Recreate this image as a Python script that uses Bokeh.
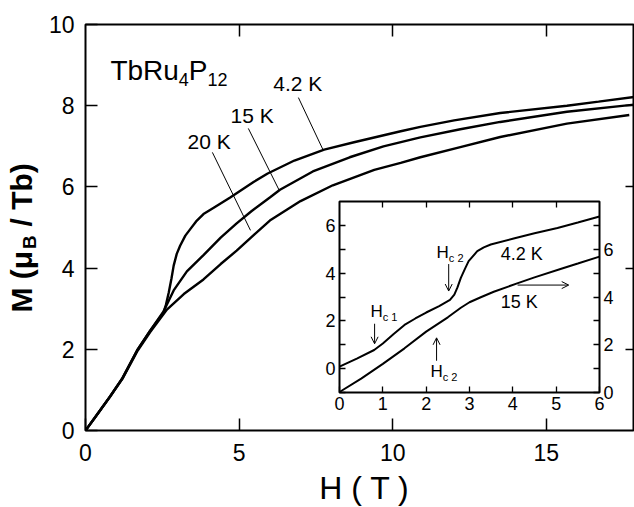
import math
from bokeh.plotting import figure
from bokeh.models import (Range1d, LinearAxis, FixedTicker, Arrow, OpenHead, ColumnDataSource)
from bokeh.core.properties import value
from bokeh.embed import file_html
from bokeh.resources import INLINE

FONT = "Liberation Sans"
MID = 0.347   # distance (in em) from the text's middle to its alphabetic baseline

# ---------------- data ----------------
main_H_42 = [0, 0.4, 0.8, 1.2, 1.7, 2.1, 2.54, 2.62, 2.71, 2.8, 2.87, 2.97, 3.08, 3.25, 3.41, 3.6,
             3.84, 4.2, 4.71, 5.47, 5.93, 6.8, 7.77, 8.74, 10.26, 10.9, 12.0, 13.5, 15.67, 16.7, 17.9]
main_M_42 = [0, 0.42, 0.84, 1.28, 2.0, 2.45, 2.91, 3.1, 3.4, 3.75, 4.06, 4.35, 4.55, 4.8, 4.96, 5.15,
             5.33, 5.5, 5.74, 6.12, 6.33, 6.65, 6.92, 7.1, 7.37, 7.48, 7.64, 7.82, 8.0, 8.1, 8.22]
main_H_15 = [0, 0.4, 0.8, 1.2, 1.7, 2.1, 2.54, 2.87, 3.3, 3.84, 4.4, 4.92, 5.4, 6.0, 6.33, 7.4,
             8.6, 9.7, 10.9, 12.2, 13.5, 15.67, 17.9]
main_M_15 = [0, 0.42, 0.84, 1.29, 2.0, 2.45, 2.93, 3.45, 3.92, 4.32, 4.75, 5.1, 5.4, 5.74, 5.93, 6.38,
             6.73, 7.0, 7.22, 7.42, 7.6, 7.85, 8.03]
main_H_20 = [0, 0.4, 0.8, 1.2, 1.7, 2.1, 2.65, 3.2, 3.84, 4.4, 4.92, 5.5, 6.0, 7.0, 8.05, 9.4,
             10.26, 10.9, 12.2, 13.5, 15.67, 17.7]
main_M_20 = [0, 0.41, 0.83, 1.27, 1.97, 2.42, 2.98, 3.36, 3.72, 4.1, 4.43, 4.83, 5.17, 5.65, 6.04, 6.42,
             6.59, 6.73, 6.98, 7.23, 7.56, 7.77]

ins_H_42 = [0, 0.4, 0.8, 1.0, 1.25, 1.5, 1.75, 2.0, 2.3, 2.55, 2.65, 2.72, 2.8, 2.9, 2.98, 3.18,
            3.33, 3.49, 4.02, 4.5, 5.03, 5.5, 6.0]
ins_M_42 = [0.08, 0.42, 0.78, 1.05, 1.45, 1.83, 2.1, 2.35, 2.62, 2.88, 3.1, 3.39, 3.8, 4.2, 4.5, 4.92,
            5.08, 5.2, 5.45, 5.67, 5.89, 6.12, 6.37]
ins_H_15 = [0, 0.5, 1.0, 1.5, 2.0, 2.5, 2.8, 3.0, 3.26, 3.56, 4.1, 4.5, 5.1, 5.5, 6.0]
ins_M_15 = [0.02, 0.58, 1.2, 1.85, 2.55, 3.15, 3.55, 3.78, 3.99, 4.22, 4.57, 4.82, 5.17, 5.4, 5.69]

main_x_ticks = [0, 5, 10, 15]
main_y_ticks = [0, 2, 4, 6, 8, 10]
ins_x_ticks = [0, 1, 2, 3, 4, 5, 6]
ins_yl_ticks = [0, 2, 4, 6]
ins_yl_minor = [-1, 1, 3, 5]
ins_yr_ticks = [0, 2, 4, 6]
ins_yr_minor = [1, 3, 5, 7]

# temperature labels on the main plot (label baseline anchor, leader line start/end)
main_labels = ["4.2 K", "15 K", "20 K"]
main_label_H = [6.11, 4.72, 3.32]
main_label_M = [8.37, 7.59, 6.95]
leader_H0 = [6.93, 5.30, 4.13]
leader_M0 = [8.20, 7.44, 6.85]
leader_H1 = [7.74, 6.31, 5.37]
leader_M1 = [6.90, 5.91, 4.93]

# Arial / Liberation Sans advance widths (per 1000 em)
W = {' ': 278, '.': 278, 'H': 722, 'K': 667, 'T': 611, 'b': 556, 'R': 722, 'u': 556,
     'P': 667, 'c': 500, 'M': 833, '(': 333, ')': 333, '/': 278, 'μ': 576, 'B': 667}
WB = {' ': 278, 'M': 833, '(': 333, ')': 333, '/': 278, 'μ': 611, 'B': 722, 'T': 611, 'b': 611}
for d in "0123456789":
    W[d] = 556


def tw(s, size, table=W):
    return sum(table.get(ch, 556) for ch in s) * size / 1000.0


def rich(fig, x, y, pieces, px_per_unit, **kw):
    """Text made of pieces (text, px size, down-shift px); (x, y) is the baseline start."""
    offs, xo = [], 0.0
    for t, s, dy in pieces:
        offs.append(xo)
        xo += tw(t, s)
    src = ColumnDataSource(dict(
        x=[x] * len(pieces),
        y=[y + MID * p[1] / px_per_unit for p in pieces],
        t=[p[0] for p in pieces], fs=["%dpx" % p[1] for p in pieces],
        xo=offs, yo=[p[2] for p in pieces]))
    fig.text(x="x", y="y", text="t", source=src, text_font_size="fs", x_offset="xo",
             y_offset="yo", text_font=value(FONT), text_color="black",
             text_align="left", text_baseline="middle", **kw)


def tick_only_axis(ax, ticks, tick_len, width):
    # ticks drawn as "minor" ticks so that no (empty) labels are produced
    ax.ticker = FixedTicker(ticks=[], minor_ticks=ticks)
    ax.axis_line_color = None
    ax.major_tick_line_color = None
    ax.minor_tick_in = tick_len
    ax.minor_tick_out = 0
    ax.minor_tick_line_width = width
    ax.minor_tick_line_color = "black"


# ---------------- main figure ----------------
MAIN_PX_Y = 40.6
p = figure(width=634, height=507, x_range=Range1d(0, 17.87), y_range=Range1d(0, 10),
           output_backend="svg", toolbar_location=None,
           min_border_left=85, min_border_right=0, min_border_top=24, min_border_bottom=77)
p.grid.visible = False
p.outline_line_color = "black"
p.outline_line_width = 2
p.background_fill_color = "white"
p.border_fill_color = "white"

for ax, ticks, stand in [(p.xaxis[0], main_x_ticks, 13), (p.yaxis[0], main_y_ticks, 11)]:
    ax.ticker = FixedTicker(ticks=ticks)
    ax.axis_line_color = None
    ax.major_tick_in = 12
    ax.major_tick_out = 0
    ax.major_tick_line_width = 1.5
    ax.minor_tick_line_color = None
    ax.major_label_text_font = FONT
    ax.major_label_text_font_size = "23px"
    ax.major_label_text_color = "black"
    ax.major_label_standoff = stand

top_ax = LinearAxis()
tick_only_axis(top_ax, main_x_ticks[1:], 12, 1.5)
p.add_layout(top_ax, "above")
right_ax = LinearAxis()
tick_only_axis(right_ax, main_y_ticks[1:-1], 9, 1.5)
p.add_layout(right_ax, "right")

for Hs, Ms in [(main_H_20, main_M_20), (main_H_15, main_M_15), (main_H_42, main_M_42)]:
    p.line(Hs, Ms, line_color="black", line_width=2.4)

p.segment(x0=leader_H0, y0=leader_M0, x1=leader_H1, y1=leader_M1, line_color="black", line_width=1)
p.text(x=main_label_H, y=[m + MID * 21 / MAIN_PX_Y for m in main_label_M], text=main_labels,
       text_font=value(FONT), text_font_size="21px", text_color="black", text_align="left",
       text_baseline="middle")

rich(p, 0.81, 8.62, [("TbRu", 28, 0), ("4", 18, 5), ("P", 28, 0), ("12", 18, 5)], MAIN_PX_Y)

# ---------------- inset ----------------
INS_PX_Y = 23.875
inset = figure(width=315, height=226, x_range=Range1d(0, 6), y_range=Range1d(-1, 7),
               output_backend="svg", toolbar_location=None,
               min_border_left=30, min_border_right=25, min_border_top=5, min_border_bottom=30)
inset.extra_y_ranges = {"r": Range1d(0, 8)}
inset.grid.visible = False
inset.outline_line_color = "black"
inset.outline_line_width = 2
inset.background_fill_color = "white"
inset.border_fill_alpha = 0


def style_inset_axis(ax):
    ax.axis_line_color = None
    ax.major_tick_in = 6
    ax.major_tick_out = 0
    ax.minor_tick_in = 6
    ax.minor_tick_out = 0
    ax.major_tick_line_width = 1.3
    ax.minor_tick_line_width = 1.3
    ax.major_label_text_font = FONT
    ax.major_label_text_font_size = "18px"
    ax.major_label_text_color = "black"
    ax.major_label_standoff = 4


inset.xaxis.ticker = FixedTicker(ticks=ins_x_ticks)
style_inset_axis(inset.xaxis[0])
inset.yaxis.ticker = FixedTicker(ticks=ins_yl_ticks, minor_ticks=ins_yl_minor)
style_inset_axis(inset.yaxis[0])
itop = LinearAxis()
tick_only_axis(itop, ins_x_ticks[1:-1], 6, 1.3)
inset.add_layout(itop, "above")
iright = LinearAxis(y_range_name="r", ticker=FixedTicker(ticks=ins_yr_ticks, minor_ticks=ins_yr_minor))
style_inset_axis(iright)
inset.add_layout(iright, "right")

inset.line(ins_H_42, ins_M_42, line_color="black", line_width=2)
inset.line(ins_H_15, ins_M_15, line_color="black", line_width=2, y_range_name="r")

rich(inset, 0.715, 2.14, [("H", 17, 0), ("c 1", 11, 3)], INS_PX_Y)
rich(inset, 2.24, 4.61, [("H", 17, 0), ("c 2", 11, 3)], INS_PX_Y)
rich(inset, 2.10, -0.37, [("H", 17, 0), ("c 2", 11, 3)], INS_PX_Y)
inset.text(x=[3.72, 3.72], y=[m + MID * 18 / INS_PX_Y for m in [4.53, 2.52]], text=["4.2 K", "15 K"],
           text_font=value(FONT), text_font_size="18px", text_color="black", text_align="left",
           text_baseline="middle")

arrows = [(0.81, 1.88, 0.81, 1.04), (2.52, 4.38, 2.52, 3.25), (4.11, 3.5, 5.29, 3.5), (2.24, 0.33, 2.24, 1.29)]
for xs, ys, xe, ye in arrows:
    inset.add_layout(Arrow(end=OpenHead(size=7, line_width=1, line_color="black"),
                           x_start=xs, y_start=ys, x_end=xe, y_end=ye,
                           line_color="black", line_width=1))

inset.stylesheets = [":host { position: absolute !important; left: 309px !important; top: 196px !important; }"]

# ---------------- overlay with the axis titles (pixel units, y measured upward) ----------------
CH = 507
titles = figure(width=634, height=CH, x_range=Range1d(0, 634), y_range=Range1d(0, CH),
                output_backend="svg", toolbar_location=None, min_border=0,
                x_axis_location=None, y_axis_location=None)
titles.grid.visible = False
titles.outline_line_color = None
titles.background_fill_alpha = 0
titles.border_fill_alpha = 0
titles.text(x=[364], y=[CH - (499 - MID * 32)], text=["H ( T )"], text_font=value(FONT),
            text_font_size="32px", text_color="black", text_align="center", text_baseline="middle")

ypieces = [("M (μ", 30, 0), ("B", 19, 5), ("/ Tb)", 30, 0)]
pos = CH - 312
yx, yy, yt, ys = [], [], [], []
for t, s, dy in ypieces:
    yx.append(31 + dy - MID * s)
    yy.append(pos)
    yt.append(t)
    ys.append("%dpx" % s)
    pos += tw(t, s, WB) * 1.03
    if t == "B":
        pos += tw(" ", 30, WB)
titles.text(x="x", y="y", text="t", text_font_size="fs",
            source=ColumnDataSource(dict(x=yx, y=yy, t=yt, fs=ys)),
            angle=math.pi / 2, text_font=value(FONT), text_font_style="bold",
            text_color="black", text_align="left", text_baseline="middle")
titles.stylesheets = [":host { position: absolute !important; left: 0px !important; top: 0px !important; }"]

open("out.html", "w").write(file_html([p, inset, titles], INLINE))
